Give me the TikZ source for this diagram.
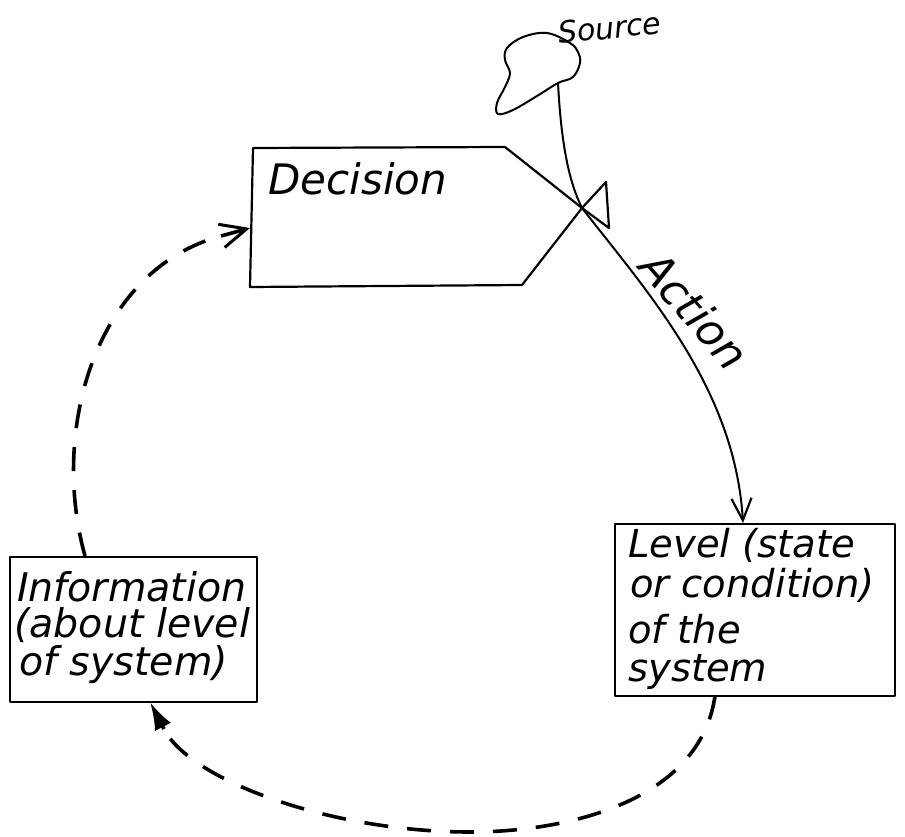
\documentclass[tikz,border=0pt]{standalone}
\usepackage{fontspec}
\setmainfont{DejaVu Sans}
\usetikzlibrary{arrows.meta}
\begin{document}
\begin{tikzpicture}[x=1pt,y=-1pt,
  hand/.style={font=\itshape, inner sep=0pt, anchor=base west},
  box/.style={draw, line width=2.2pt, line join=round},
  flow/.style={line width=2pt},
  infolink/.style={line width=3.6pt, dash pattern=on 24pt off 19pt},
  infotip/.style={line width=3.6pt, solid},
]
\useasboundingbox (0,0) rectangle (905,837);

% coordinates
\coordinate (valve) at (582,208);
\coordinate (cloudout) at (558,83);
\coordinate (dtop) at (505,147);
\coordinate (dbot) at (522,285);
\coordinate (decin) at (250,228);
\coordinate (decpre) at (221,236);

% cloud (source)
\draw[flow] plot[smooth cycle, tension=0.6] coordinates {(507,48) (523,37) (547,33) (570,43) (578,52) (580,63) (573,77) (558,83) (537,96) (513,110) (498,114) (497,103) (505,87) (510,73) (505,60)};
\node[hand, font=\itshape\fontsize{30}{34}\selectfont, rotate=6] (src) at (559,44) {Source};

% decision box
\draw[box] (dtop) -- (253,148) -- (250,287) -- (dbot) -- (valve) -- (dtop);
\node[hand, font=\itshape\fontsize{42}{50}\selectfont] (dec) at (268,195) {Decision};

% valve
\draw[box] (valve) -- (606,182) -- (609,228) -- cycle;

% level box
\node[box, minimum width=280pt, minimum height=172pt, anchor=north west, inner sep=0pt] (level) at (614,523) {};
\node[hand, font=\itshape\fontsize{38.5}{44}\selectfont] (l1) at (628,557) {Level (state};
\node[hand, font=\itshape\fontsize{38.5}{44}\selectfont] (l2) at (630,597) {or condition)};
\node[hand, font=\itshape\fontsize{38.5}{44}\selectfont] (l3) at (628,643) {of the};
\node[hand, font=\itshape\fontsize{38.5}{44}\selectfont] (l4) at (628,681) {system};
\coordinate (lvlout) at (715,696);

% information box
\node[box, minimum width=247pt, minimum height=145pt, anchor=north west, inner sep=0pt] (info) at (9,556) {};
\node[hand, font=\itshape\fontsize{39.5}{44}\selectfont] (i1) at (17,601) {Information};
\node[hand, font=\itshape\fontsize{39.5}{44}\selectfont] (i2) at (14,637) {(about level};
\node[hand, font=\itshape\fontsize{39.5}{44}\selectfont] (i3) at (19,675) {of system)};
\coordinate (infoin) at (150,702);
\coordinate (infopre) at (164,729);
\coordinate (infoout) at (85,556);

% source pipe and action flow
\draw[flow] (cloudout) .. controls (561,140) and (568,180) .. (valve);
\draw[flow, -{Straight Barb[length=22pt,width=20pt,line width=2.2pt]}] (valve) .. controls (650,295) and (735,390) .. (level.north -| 743,0);
\node[font=\itshape\fontsize{44}{50}\selectfont, inner sep=0pt, rotate=-49] (act) at (695,310) {Action};

% information links
\draw[infolink] (lvlout) .. controls (700,800) and (570,832) .. (470,832) .. controls (330,832) and (190,780) .. (infopre);
\draw[infotip, -{Latex[length=28pt,width=18pt]}] (infopre) -- (infoin);
\draw[infolink] (infoout) .. controls (50,430) and (95,270) .. (decpre);
\draw[infotip, -{Straight Barb[length=26pt,width=24pt,line width=3pt]}] (decpre) -- (decin);
\end{tikzpicture}
\end{document}
